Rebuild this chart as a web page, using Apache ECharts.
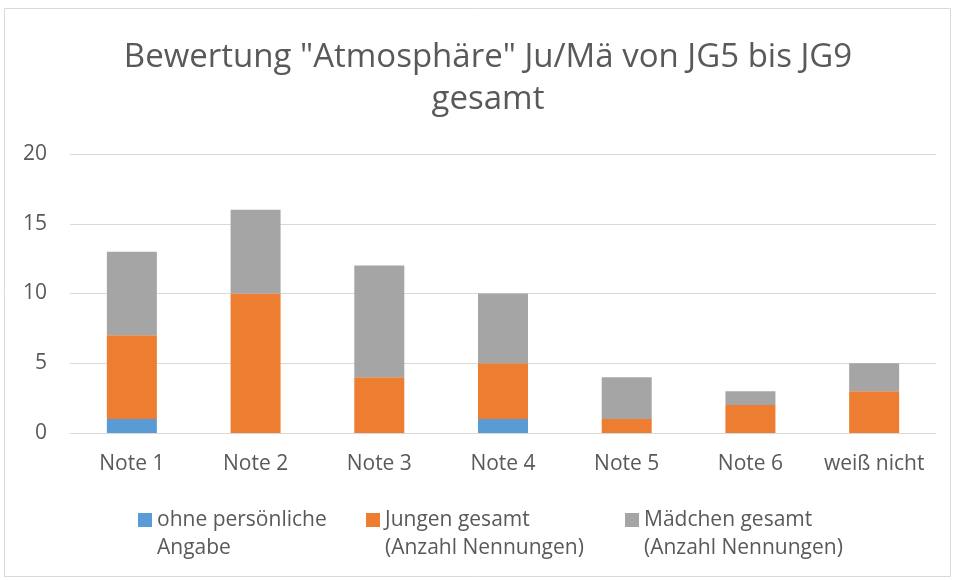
<!DOCTYPE html>
<html><head><meta charset="utf-8">
<script src="https://cdn.jsdelivr.net/npm/echarts@6/dist/echarts.min.js"></script>
<style>html,body{margin:0;padding:0;background:#fff}#c{width:954px;height:580px}</style>
</head><body><div id="c"></div>
<script>
const categories = ["Note 1","Note 2","Note 3","Note 4","Note 5","Note 6","weiß nicht"];
const ohneAngabe = [1,0,0,1,0,0,0];
const jungen = [6,10,4,4,1,2,3];
const maedchen = [6,6,8,5,3,1,2];
const seriesNames = ["ohne persönliche\nAngabe","Jungen gesamt\n(Anzahl Nennungen)","Mädchen gesamt\n(Anzahl Nennungen)"];
const yTicks = [0,5,10,15,20];

const FONT = "'Open Sans', sans-serif";
const txt = '#595959';
const chart = echarts.init(document.getElementById('c'));
function lg(i, left){
  return {data:[seriesNames[i]], left:left, top:478, padding:0, itemWidth:14, itemHeight:14, itemGap:0,
    icon:'rect', selectedMode:false, formatter: n => '\n' + n,
    textStyle:{fontFamily:FONT, fontSize:21, color:txt, lineHeight:28}};
}
chart.setOption({
  animation:false,
  title:{text:'Bewertung "Atmosphäre" Ju/Mä von JG5 bis JG9\ngesamt', left:483, textAlign:'center', top:32,
    textStyle:{fontFamily:FONT, fontSize:33, fontWeight:'normal', color:txt, lineHeight:42}},
  graphic:[{type:'rect', shape:{x:4.5,y:8.5,width:946,height:568}, style:{fill:'none', stroke:'#d9d9d9', lineWidth:1}, silent:true}],
  legend:[lg(0,138), lg(1,366), lg(2,625)],
  grid:{left:70, right:18, top:154, bottom:147},
  xAxis:{type:'category', data:categories,
    axisLine:{lineStyle:{color:'#d9d9d9'}}, axisTick:{show:false},
    axisLabel:{fontFamily:FONT, fontSize:21, color:txt, margin:21, interval:0}},
  yAxis:{type:'value', min:yTicks[0], max:yTicks[yTicks.length-1], interval:5,
    axisLine:{show:false}, axisTick:{show:false},
    splitLine:{lineStyle:{color:'#d9d9d9'}},
    axisLabel:{fontFamily:FONT, fontSize:21, color:txt, margin:23}},
  series:[
    {name:seriesNames[0], type:'bar', stack:'s', data:ohneAngabe, barWidth:50, itemStyle:{color:'#5b9bd5'}},
    {name:seriesNames[1], type:'bar', stack:'s', data:jungen, barWidth:50, itemStyle:{color:'#ed7d31'}},
    {name:seriesNames[2], type:'bar', stack:'s', data:maedchen, barWidth:50, itemStyle:{color:'#a5a5a5'}}
  ]
});
</script></body></html>
